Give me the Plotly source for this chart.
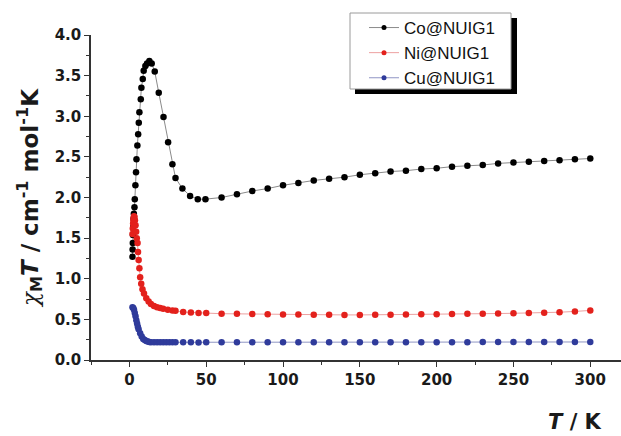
import plotly.graph_objects as go

# ---- data ----
co_T = [2.0, 2.1, 2.2, 2.3, 2.5, 2.7, 2.9, 3.3, 3.5, 3.9, 4.3, 4.6, 5.2, 5.7, 6.1, 6.5,
        7.4, 7.8, 8.7, 9.3, 10.4, 11.5, 13.0, 14.5, 16.5, 19.1, 22.2, 25.2, 28.0, 30.0,
        34.5, 39.5, 44.5, 49.5, 60, 70, 80, 90, 100, 110, 120, 130, 140, 150, 160, 170,
        180, 190, 200, 210, 220, 230, 240, 250, 260, 270, 280, 290, 300]
co_val = [1.27, 1.36, 1.44, 1.54, 1.64, 1.74, 1.80, 1.88, 1.98, 2.15, 2.31, 2.47, 2.64, 2.78,
          2.92, 3.05, 3.21, 3.35, 3.46, 3.56, 3.62, 3.65, 3.68, 3.65, 3.55, 3.29, 2.99, 2.68,
          2.41, 2.24, 2.11, 2.02, 1.98, 1.98, 2.00, 2.04, 2.08, 2.11, 2.15, 2.18, 2.21, 2.23,
          2.25, 2.28, 2.30, 2.32, 2.33, 2.35, 2.36, 2.38, 2.39, 2.40, 2.42, 2.43, 2.44, 2.45,
          2.46, 2.47, 2.48]

ni_T = [2.0, 2.2, 2.4, 2.6, 2.8, 3.0, 3.3, 3.6, 4.0, 4.4, 4.8, 5.3, 5.6, 6.0, 6.5, 7.0, 7.7,
        8.5, 9.5, 11, 12.5, 14, 16, 18, 20, 22, 25, 28, 30, 35, 40, 45, 50, 60, 70, 80, 90,
        100, 110, 120, 130, 140, 150, 160, 170, 180, 190, 200, 210, 220, 230, 240, 250, 260,
        270, 280, 290, 300]
ni_val = [1.55, 1.62, 1.68, 1.72, 1.75, 1.77, 1.76, 1.72, 1.66, 1.58, 1.50, 1.44, 1.33, 1.23,
          1.13, 1.02, 0.94, 0.87, 0.82, 0.76, 0.72, 0.69, 0.665, 0.65, 0.64, 0.63, 0.62, 0.61,
          0.605, 0.59, 0.585, 0.58, 0.578, 0.57, 0.568, 0.565, 0.562, 0.56, 0.56, 0.558, 0.556,
          0.555, 0.555, 0.556, 0.558, 0.56, 0.562, 0.564, 0.566, 0.568, 0.57, 0.572, 0.575,
          0.578, 0.582, 0.588, 0.598, 0.61]

cu_T = [2.0, 2.5, 3.0, 3.5, 4.0, 4.5, 5.0, 5.5, 6.0, 7.0, 8.0, 9.0, 10, 11, 12, 13, 14, 16,
        18, 20, 22, 24, 26, 28, 30, 35, 40, 45, 50, 60, 70, 80, 90, 100, 110, 120, 130, 140,
        150, 160, 170, 180, 190, 200, 210, 220, 230, 240, 250, 260, 270, 280, 290, 300]
cu_val = [0.65, 0.64, 0.62, 0.58, 0.54, 0.49, 0.45, 0.41, 0.38, 0.33, 0.29, 0.26, 0.245, 0.235,
          0.228, 0.222, 0.22, 0.218, 0.218, 0.218, 0.217, 0.217, 0.217, 0.217, 0.217, 0.217,
          0.217, 0.216, 0.217, 0.218, 0.218, 0.219, 0.219, 0.22, 0.22, 0.22, 0.22, 0.22, 0.22,
          0.22, 0.22, 0.22, 0.22, 0.22, 0.22, 0.22, 0.221, 0.221, 0.221, 0.221, 0.221, 0.222,
          0.222, 0.222]

series_names = ["Co@NUIG1", "Ni@NUIG1", "Cu@NUIG1"]
x_ticks = [0, 50, 100, 150, 200, 250, 300]

fig = go.Figure()
styles = [("#000000", "#8a8a8a"), ("#e3211c", "#eda0a0"), ("#2f3b9b", "#8f95c4")]
for (T, v), name, (mc, lc) in zip([(co_T, co_val), (ni_T, ni_val), (cu_T, cu_val)],
                                  series_names, styles):
    fig.add_trace(go.Scatter(x=T, y=v, name=name, mode="lines+markers", showlegend=False,
                             marker=dict(color=mc, size=6.5, line=dict(width=0)),
                             line=dict(color=lc, width=1)))
# legend entries (smaller symbols, as in the reference legend)
for name, (mc, lc) in zip(series_names, styles):
    fig.add_trace(go.Scatter(x=[None], y=[None], name=name, mode="lines+markers",
                             marker=dict(color=mc, size=5, line=dict(width=0)),
                             line=dict(color=lc, width=1)))

W, H = 621, 436
ml, mr, mt, mb = 91, 0, 35, 76
pw, ph = W - ml - mr, H - mt - mb

def px2paper(x, y):
    return (x - ml) / pw, (H - mb - y) / ph

# legend box shadow and box (drawn as shapes)
sx0, sy0 = px2paper(355, 94)
sx1, sy1 = px2paper(517, 18)
fig.add_shape(type="rect", xref="paper", yref="paper", x0=sx0, x1=sx1, y0=sy0, y1=sy1,
              fillcolor="black", line=dict(width=0), layer="above")
bx0, by0 = px2paper(350, 89)
bx1, by1 = px2paper(511, 13)
fig.add_shape(type="rect", xref="paper", yref="paper", x0=bx0, x1=bx1, y0=by0, y1=by1,
              fillcolor="white", line=dict(color="#9a9a9a", width=1), layer="above")

lx, ly = px2paper(364, 10)

fig.update_layout(
    width=W, height=H,
    margin=dict(l=ml, r=mr, t=mt, b=mb, autoexpand=False),
    paper_bgcolor="white", plot_bgcolor="white",
    showlegend=True,
    legend=dict(x=lx, y=ly, xanchor="left", yanchor="top", bgcolor="rgba(0,0,0,0)",
                borderwidth=0,
                font=dict(family="Liberation Sans", size=17, color="#111111"),
                itemsizing="trace", tracegroupgap=0),
    xaxis=dict(range=[-25, 320], tickvals=x_ticks, showline=True, linecolor="#333333",
               linewidth=1.5, ticks="outside", ticklen=5, tickwidth=1.2, tickcolor="#333333",
               tickfont=dict(family="DejaVu Sans", size=15, color="#1a1a1a", weight="bold"),
               showgrid=False, zeroline=False, automargin=False,
               minor=dict(dtick=25, tick0=0, ticks="outside", ticklen=3, tickcolor="#333333")),
    yaxis=dict(range=[0, 4.0], dtick=0.5, tickformat=".1f", showline=True,
               linecolor="#333333", linewidth=1.5, ticks="outside", ticklen=5, tickwidth=1.2,
               tickcolor="#333333", automargin=False,
               tickfont=dict(family="DejaVu Sans", size=15, color="#1a1a1a", weight="bold"),
               showgrid=False, zeroline=False,
               minor=dict(dtick=0.25, ticks="outside", ticklen=3, tickcolor="#333333"),
               title=dict(text='<span style="font-family:DejaVu Serif;font-weight:normal"><i>χ</i></span><sub>M</sub><i>T</i> / cm<sup>-1</sup> mol<sup>-1</sup>K',
                          font=dict(family="DejaVu Sans", size=23, color="#1a1a1a",
                                    weight="bold"),
                          standoff=10)),
)

fig.add_annotation(text="<i>T</i> / K", xref="paper", yref="paper",
                   x=(604 - ml) / pw, y=(H - mb - 422) / ph, xanchor="right",
                   yanchor="middle", showarrow=False,
                   font=dict(family="DejaVu Sans", size=21, color="#1a1a1a", weight="bold"))

fig.write_html("out.html", config={"displayModeBar": False},
               post_script="document.body.style.margin='0px';")
